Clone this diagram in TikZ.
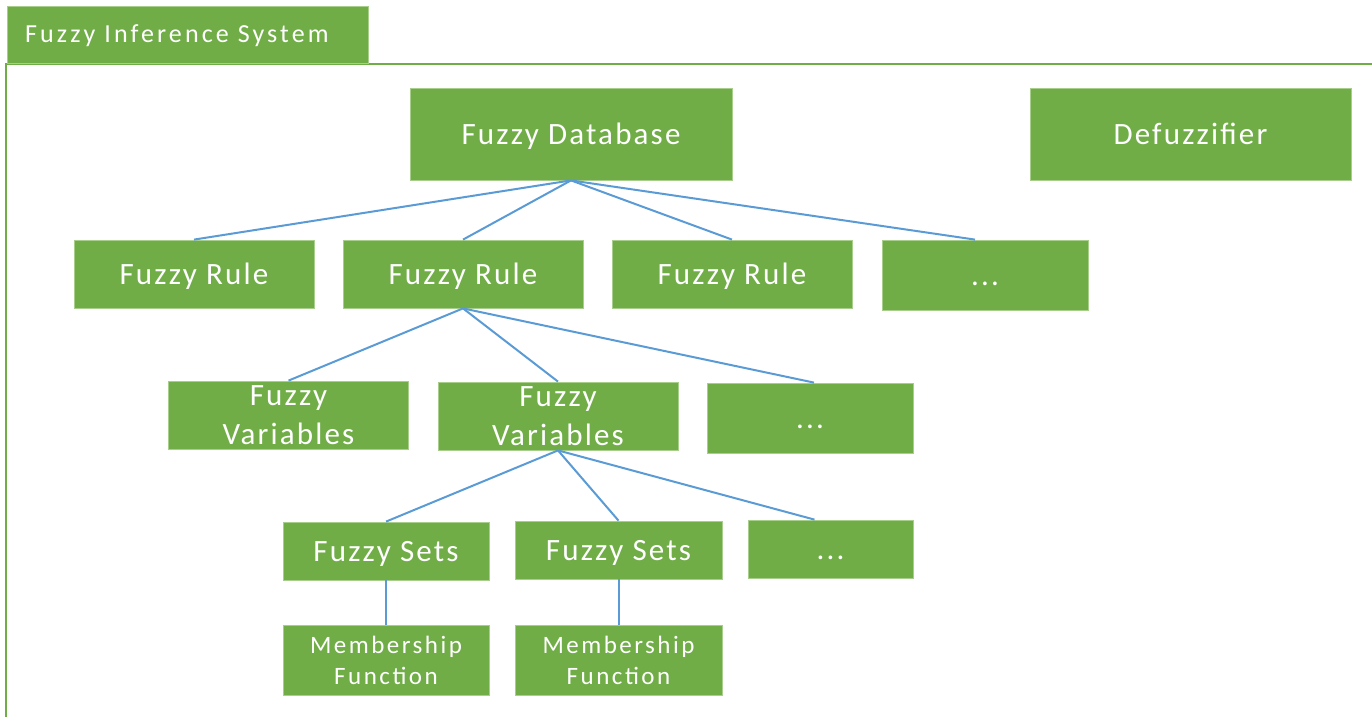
\documentclass[tikz,border=0pt]{standalone}
\usepackage{fontspec}
\setmainfont{Carlito}[LetterSpace=7]
\newfontfamily\spacedfont{Carlito}[LetterSpace=10]
\newfontfamily\tabfont{Carlito}[LetterSpace=12]
\usetikzlibrary{calc}
\definecolor{leaf}{RGB}{112,173,71}
\definecolor{leafedge}{RGB}{168,206,140}
\definecolor{wire}{RGB}{91,155,213}
\tikzset{
  box/.style={fill=leaf, draw=leafedge, line width=0.8pt, inner sep=0pt,
              text=white, align=center, font=\fontsize{31}{39}\selectfont},
  onebox/.style={box, text height=20pt, text depth=0pt},
  smallbox/.style={box, font=\spacedfont\fontsize{25}{31}\selectfont},
  link/.style={draw=wire, line width=2pt},
  frameline/.style={draw=leaf, line width=2pt}
}
\begin{document}
\begin{tikzpicture}[x=1pt, y=-1pt]
  \useasboundingbox (0,0) rectangle (1372,717);

  % outer frame and its title tab
  \draw[frameline] (6,717) -- (6,64) -- (1372,64);
  \node[fill=leaf, draw=leafedge, line width=0.8pt, minimum width=361, minimum height=57,
        inner sep=0pt, anchor=north west] (tab) at (7,6) {};
  \node[anchor=west, text=white, inner sep=0pt, text height=16pt, text depth=0pt,
        font=\tabfont\fontsize{26}{30}\selectfont] (tabtext) at (25,34) {Fuzzy Inference System};

  % top level
  \node[onebox, minimum width=322, minimum height=92] (db) at (571,134) {Fuzzy Database};
  \node[onebox, minimum width=321, minimum height=92] (defuz) at (1190.5,134) {Defuzzifier};

  % rules
  \node[onebox, minimum width=240, minimum height=68] (r1) at (194,274) {Fuzzy Rule};
  \node[onebox, minimum width=240, minimum height=68] (r2) at (463,274) {Fuzzy Rule};
  \node[onebox, minimum width=240, minimum height=68] (r3) at (732,274) {Fuzzy Rule};
  \node[onebox, minimum width=206, minimum height=70] (rd) at (985,275) {...};

  % variables
  \node[box, minimum width=240, minimum height=68] (v1) at (288.5,415) {Fuzzy\\Variables};
  \node[box, minimum width=240, minimum height=68] (v2) at (558,416) {Fuzzy\\Variables};
  \node[onebox, minimum width=206, minimum height=70] (vd) at (810,418) {...};

  % sets
  \node[onebox, minimum width=206, minimum height=58] (s1) at (386,551) {Fuzzy Sets};
  \node[onebox, minimum width=207, minimum height=58] (s2) at (618.5,550) {Fuzzy Sets};
  \node[onebox, minimum width=165, minimum height=58] (sd) at (830.5,549) {...};

  % membership functions
  \node[smallbox, minimum width=206, minimum height=70] (m1) at (386,660) {Membership\\Function};
  \node[smallbox, minimum width=207, minimum height=70] (m2) at (618.5,660) {Membership\\Function};

  % connectors
  \draw[link] (db.south) -- (r1.north);
  \draw[link] (db.south) -- (r2.north);
  \draw[link] (db.south) -- (r3.north);
  \draw[link] (db.south) -- ($(rd.north)+(-10,0)$);

  \draw[link] (r2.south) -- (v1.north);
  \draw[link] (r2.south) -- (v2.north);
  \draw[link] (r2.south) -- ($(vd.north)+(4,0)$);

  \draw[link] (v2.south) -- (s1.north);
  \draw[link] (v2.south) -- (s2.north);
  \draw[link] (v2.south) -- ($(sd.north)+(-16,0)$);

  \draw[link] (s1.south) -- (m1.north);
  \draw[link] (s2.south) -- (m2.north);
\end{tikzpicture}
\end{document}
